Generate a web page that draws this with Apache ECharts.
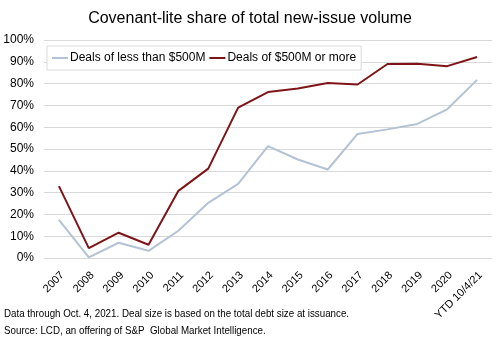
<!DOCTYPE html>
<html><head><meta charset="utf-8">
<script src="https://cdn.jsdelivr.net/npm/echarts@6/dist/echarts.min.js"></script>
<style>html,body{margin:0;padding:0;background:#fff}#c{width:500px;height:340px}</style>
</head><body><div id="c"></div>
<script>
var categories = ['2007','2008','2009','2010','2011','2012','2013','2014','2015','2016','2017','2018','2019','2020','YTD 10/4/21'];
var smallDeals = [17.5, 0.3, 7, 3.3, 12.5, 25.3, 34, 51.3, 45.2, 40.6, 56.9, 59, 61.5, 68.2, 81.7];
var largeDeals = [33, 4.5, 11.6, 6.1, 30.8, 41, 69, 76.1, 77.8, 80.3, 79.6, 89, 89.1, 88, 92.2];
var yTicks = [0, 10, 20, 30, 40, 50, 60, 70, 80, 90, 100];
var titleText = 'Covenant-lite share of total new-issue volume';
var note1 = 'Data through Oct. 4, 2021. Deal size is based on the total debt size at issuance.';
var note2 = 'Source: LCD, an offering of S&P  Global Market Intelligence.';

var font = 'Liberation Sans, Arial, sans-serif';
var chart = echarts.init(document.getElementById('c'), null, {renderer:'canvas'});
chart.setOption({
  animation: false,
  title: {text: titleText, left: 'center', top: 6,
    textStyle: {fontFamily: font, fontSize: 16, fontWeight: 'normal', color: '#000'}},
  graphic: [
    {type:'text', x: 4, y: 308, scaleX: 0.85, style:{text: note1, font: '11.5px ' + font, fill:'#000'}},
    {type:'text', x: 4, y: 325, scaleX: 0.85, style:{text: note2, font: '11.5px ' + font, fill:'#000'}}
  ],
  legend: {left: 47, top: 46, itemGap: 4, itemWidth: 16, itemHeight: 2,
    padding: [6, 5, 6, 5],
    backgroundColor: '#fff', borderColor: '#d9d9d9', borderWidth: 1,
    textStyle: {fontFamily: font, fontSize: 12, color: '#000', padding:[0,0,0,-3]},
    icon: 'rect',
    data: ['Deals of less than $500M', 'Deals of $500M or more']},
  grid: {left: 44, right: 8, top: 40, bottom: 82},
  xAxis: {type: 'category', data: categories, boundaryGap: true,
    axisLine: {lineStyle: {color: '#d9d9d9'}}, axisTick: {show: false},
    axisLabel: {rotate: 45, fontFamily: font, fontSize: 11, color: '#000', margin: 19, interval: 0,
      padding: [0, -5, 0, 0]}},
  yAxis: {type: 'value', min: 0, max: 100, interval: 10,
    axisLine: {show: false}, axisTick: {show: false},
    splitLine: {lineStyle: {color: '#d9d9d9'}},
    axisLabel: {fontFamily: font, fontSize: 12, color: '#000', margin: 10,
      formatter: function(v){ return yTicks.indexOf(v) >= 0 ? v + '%' : ''; }}},
  series: [
    {name: 'Deals of less than $500M', type: 'line', data: smallDeals, symbol: 'none',
      lineStyle: {color: '#b4c2d6', width: 2}, itemStyle: {color: '#b4c2d6'}, z: 2},
    {name: 'Deals of $500M or more', type: 'line', data: largeDeals, symbol: 'none',
      lineStyle: {color: '#7f1418', width: 2}, itemStyle: {color: '#7f1418'}, z: 3}
  ]
});
</script></body></html>
